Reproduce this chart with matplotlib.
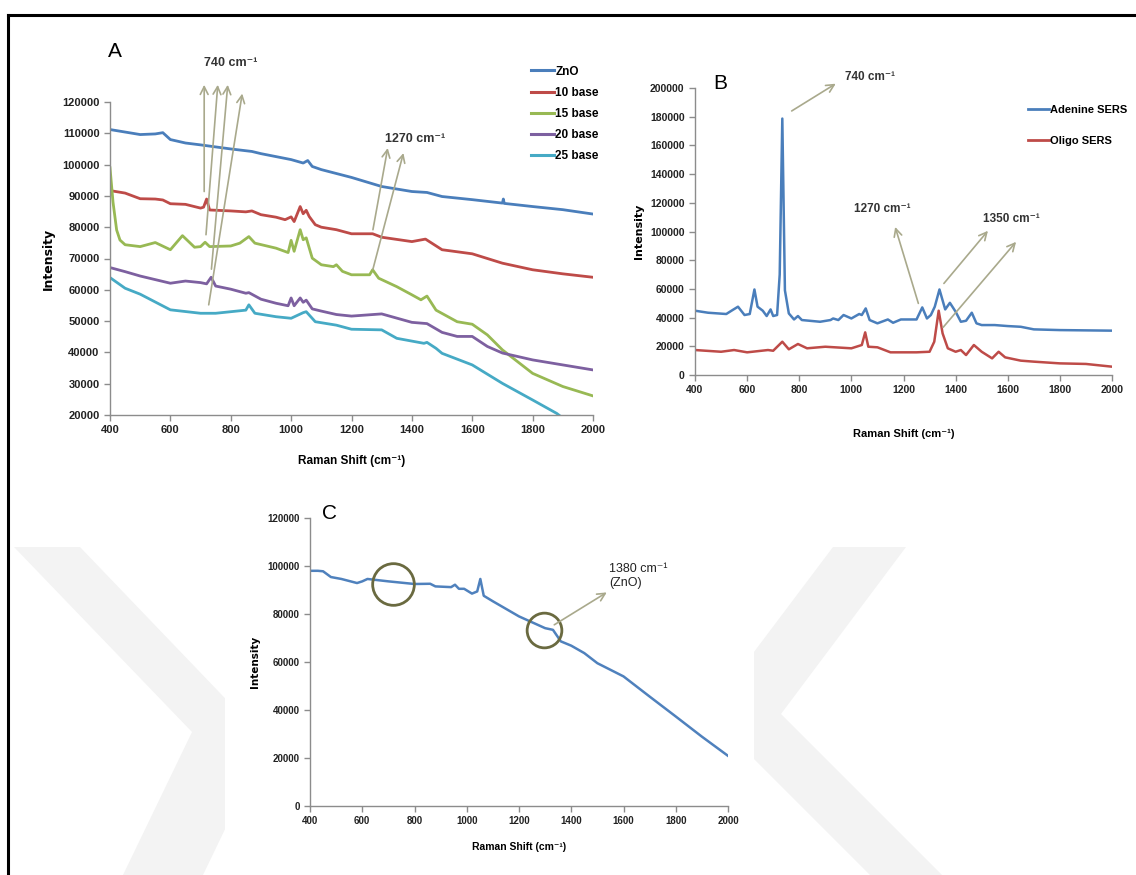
import numpy as np
import matplotlib
matplotlib.use("Agg")
import matplotlib.pyplot as plt
from matplotlib.lines import Line2D
from matplotlib.patches import Polygon, Rectangle

plt.rcParams['font.family'] = ['Liberation Sans Narrow', 'Liberation Sans', 'DejaVu Sans']
plt.rcParams['mathtext.default'] = 'regular'

# ---------------- panel A data (Raman shift, intensity) ----------------
zno_x = [400, 450, 500, 550, 575, 600, 650, 700, 800, 870, 900, 1000, 1040, 1055, 1070, 1100,
         1200, 1300, 1400, 1450, 1500, 1600, 1700, 1703, 1706, 1800, 1900, 2000]
zno_y = [111200, 110400, 109600, 109800, 110200, 108000, 106900, 106300, 105000, 104200, 103500,
         101600, 100500, 101300, 99400, 98400, 95900, 93000, 91400, 91100, 89800, 88800, 87700,
         89000, 87600, 86600, 85600, 84200]

b10_x = [400, 450, 500, 550, 575, 600, 650, 700, 710, 720, 730, 800, 850, 870, 900, 950, 980,
         1000, 1010, 1030, 1040, 1050, 1060, 1080, 1100, 1150, 1200, 1270, 1300, 1400, 1445,
         1500, 1600, 1700, 1800, 1900, 2000]
b10_y = [91700, 90900, 89100, 89000, 88700, 87500, 87300, 86100, 86400, 89000, 85500, 85200,
         84900, 85200, 84000, 83200, 82400, 83300, 81800, 86600, 84300, 85400, 83400, 80800,
         80000, 79200, 77900, 77900, 76800, 75400, 76200, 72800, 71500, 68500, 66400, 65100, 64000]

b15_x = [400, 410, 422, 433, 450, 500, 550, 600, 640, 680, 700, 715, 730, 800, 830, 860, 880,
         950, 990, 1000, 1010, 1030, 1040, 1050, 1070, 1100, 1140, 1150, 1170, 1200, 1260, 1270,
         1290, 1350, 1400, 1430, 1450, 1480, 1550, 1600, 1650, 1700, 1800, 1900, 2000]
b15_y = [99000, 88000, 79100, 75900, 74400, 73800, 75100, 72800, 77300, 73600, 73800, 75200,
         73800, 74000, 74900, 77000, 74900, 73300, 71900, 75800, 72300, 79200, 76000, 76600,
         70100, 68000, 67400, 68000, 65900, 64800, 64800, 66400, 63700, 61000, 58400, 56800,
         58000, 53500, 49800, 49000, 45600, 40800, 33300, 29100, 26100]

b20_x = [400, 450, 500, 600, 650, 700, 720, 735, 750, 800, 850, 860, 900, 950, 990, 1000, 1010,
         1030, 1040, 1050, 1070, 1100, 1150, 1200, 1300, 1400, 1450, 1500, 1550, 1600, 1650,
         1700, 1800, 1900, 2000]
b20_y = [67100, 65800, 64400, 62100, 62800, 62300, 61900, 64000, 61200, 60200, 58900, 59100,
         57000, 55700, 54900, 57400, 54900, 57400, 56000, 56700, 53900, 53200, 52100, 51600,
         52300, 49600, 49200, 46400, 45100, 45100, 41900, 39800, 37600, 36000, 34400]

b25_x = [400, 450, 500, 600, 700, 750, 850, 860, 880, 950, 1000, 1040, 1050, 1080, 1150, 1200,
         1300, 1350, 1440, 1450, 1480, 1500, 1600, 1700, 1800, 1880, 1900]
b25_y = [63900, 60500, 58600, 53600, 52500, 52500, 53500, 55200, 52500, 51400, 50900, 52700,
         53000, 49800, 48700, 47400, 47200, 44500, 42900, 43200, 41300, 39700, 36000, 30100,
         24800, 20500, 19000]

a_names = ['ZnO', '10 base', '15 base', '20 base', '25 base']

# ---------------- panel B data ----------------
ade_x = [400, 450, 520, 540, 565, 590, 610, 628, 640, 660, 675, 690, 700, 715, 725, 735, 745,
         760, 780, 795, 810, 880, 920, 930, 950, 970, 1000, 1030, 1040, 1055, 1070, 1100, 1140,
         1160, 1190, 1250, 1272, 1290, 1305, 1320, 1338, 1360, 1378, 1400, 1420, 1440, 1462,
         1480, 1500, 1550, 1600, 1650, 1700, 1800, 2000]
ade_y = [44800, 43400, 42500, 44800, 47600, 41800, 42500, 59600, 47600, 44800, 41100, 45700,
         41100, 41800, 70000, 178700, 59000, 42900, 38700, 41100, 38300, 37100, 38300, 39400,
         38300, 41800, 39400, 42500, 41800, 46400, 38300, 36000, 38700, 36400, 38700, 38700,
         47100, 39400, 41800, 47600, 59600, 45700, 50300, 44100, 37100, 37800, 43400, 36000,
         34800, 34800, 34100, 33600, 31800, 31300, 30900]

oli_x = [400, 500, 550, 600, 680, 700, 735, 760, 795, 830, 900, 1000, 1040, 1053, 1065, 1100,
         1150, 1250, 1300, 1318, 1335, 1350, 1370, 1400, 1420, 1440, 1470, 1500, 1540, 1565,
         1590, 1650, 1700, 1800, 1900, 2000]
oli_y = [17400, 16200, 17400, 15800, 17400, 16900, 23200, 17900, 21600, 18600, 19700, 18600,
         20900, 29700, 19700, 19300, 15800, 15800, 16200, 23200, 44800, 29000, 18600, 16200,
         17400, 13900, 20900, 16200, 11600, 16200, 12300, 10000, 9300, 8100, 7700, 5800]

# ---------------- panel C data ----------------
c_x = [400, 430, 450, 480, 520, 580, 600, 620, 700, 800, 860, 880, 940, 955, 970, 990, 1020,
       1040, 1052, 1065, 1100, 1200, 1300, 1330, 1360, 1400, 1450, 1500, 1600, 1700, 1800,
       1900, 2000]
c_y = [98000, 98000, 97800, 95400, 94600, 92900, 93600, 94600, 93600, 92500, 92600, 91500,
       91200, 92200, 90500, 90500, 88500, 89400, 94600, 87600, 85300, 79000, 74100, 73400,
       68600, 66800, 63700, 59500, 54000, 45600, 37300, 28900, 20900]

W, H = 1136, 875
fig = plt.figure(figsize=(W / 100, H / 100), dpi=100)


def fx(px):
    return px / W


def fy(py):
    return 1 - py / H


# faint watermark chevrons
wm = '#f3f3f3'
for pts in ([(14, 547), (80, 547), (267, 742), (203, 875), (123, 875), (192, 732)],
            [(833, 547), (906, 547), (781, 714), (942, 875), (870, 875), (708, 713)]):
    fig.add_artist(Polygon([(fx(a), fy(b)) for a, b in pts], closed=True,
                           facecolor=wm, edgecolor='none', zorder=0))
fig.add_artist(Rectangle((fx(225), fy(875)), fx(754) - fx(225), fy(493) - fy(875),
                         facecolor='white', edgecolor='none', zorder=0.5))

# frame
fig.add_artist(Line2D([fx(8), 1], [fy(15), fy(15)], color='black', lw=2.2, zorder=5))
fig.add_artist(Line2D([fx(8), fx(8)], [0, fy(15)], color='black', lw=2.2, zorder=5))

arrow_col = '#a9a98c'
sup = '\u207b\u00b9'
lab_fam = ['Liberation Sans', 'DejaVu Sans']


def style_axes(ax, fs):
    ax.set_zorder(2)
    for s in ['top', 'right']:
        ax.spines[s].set_visible(False)
    for s in ['left', 'bottom']:
        ax.spines[s].set_color('#8c8c8c')
        ax.spines[s].set_linewidth(1.0)
    ax.tick_params(direction='out', length=4, width=1, color='#8c8c8c',
                   labelsize=fs, labelcolor='#222222')
    for lab in ax.get_xticklabels() + ax.get_yticklabels():
        lab.set_fontweight('bold')
    ax.set_facecolor('none')


def arrow(ax, tail, head):
    ax.annotate('', xy=head, xytext=tail, annotation_clip=False,
                arrowprops=dict(arrowstyle='->', color=arrow_col, lw=1.2, mutation_scale=14,
                                shrinkA=0, shrinkB=0))


# ---------------- panel A ----------------
axA = fig.add_axes([fx(110), fy(415), fx(593) - fx(110), fy(102) - fy(415)])
colsA = ['#4a7ebb', '#be4b48', '#98b954', '#7d60a0', '#46aac5']
for xs, ys, c, n in zip([zno_x, b10_x, b15_x, b20_x, b25_x], [zno_y, b10_y, b15_y, b20_y, b25_y],
                        colsA, a_names):
    axA.plot(xs, ys, color=c, lw=2.0, label=n)
axA.set_xlim(400, 2000)
axA.set_ylim(20000, 120000)
axA.set_xticks(range(400, 2001, 200))
axA.set_yticks(range(20000, 120001, 10000))
style_axes(axA, 8)
axA.set_xlabel('Raman Shift (cm' + sup + ')', fontsize=8.5, fontweight='bold', labelpad=14,
               family=lab_fam)
axA.set_ylabel('Intensity', fontsize=9, fontweight='bold', labelpad=5, family='DejaVu Sans')
axA.text(417, 136000, 'A', fontsize=15, family='Liberation Sans', ha='center', va='center')
axA.text(800, 132500, '740 cm' + sup, fontsize=9, fontweight='bold', family=lab_fam,
         ha='center', va='center', color='#333333')
axA.text(1410, 108200, '1270 cm' + sup, fontsize=9, fontweight='bold', family=lab_fam,
         ha='center', va='center', color='#333333')
for t, h in [((712, 91400), (712, 125500)), ((718, 77600), (757, 125500)),
             ((736, 66600), (790, 125500)), ((727, 55200), (838, 122700)),
             ((1271, 79200), (1320, 105300)), ((1271, 66600), (1372, 103700))]:
    arrow(axA, t, h)
legA = axA.legend(loc='upper left', bbox_to_anchor=(fx(520), fy(55)),
                  bbox_transform=fig.transFigure, frameon=False, handlelength=2.0,
                  handletextpad=0.1, labelspacing=0.78, prop=dict(size=8.5, weight='bold'))
for ln in legA.get_lines():
    ln.set_linewidth(2.2)

# ---------------- panel B ----------------
axB = fig.add_axes([fx(695), fy(375), fx(1112) - fx(695), fy(88) - fy(375)])
axB.plot(ade_x, ade_y, color='#4a7ebb', lw=1.8, label='Adenine SERS')
axB.plot(oli_x, oli_y, color='#be4b48', lw=1.8, label='Oligo SERS')
axB.set_xlim(400, 2000)
axB.set_ylim(0, 200000)
axB.set_xticks(range(400, 2001, 200))
axB.set_yticks(range(0, 200001, 20000))
style_axes(axB, 7.5)
axB.set_xlabel('Raman Shift (cm' + sup + ')', fontsize=8, fontweight='bold', labelpad=24,
               family=lab_fam)
axB.set_ylabel('Intensity', fontsize=8, fontweight='bold', labelpad=4, family='DejaVu Sans')
axB.text(495, 203000, 'B', fontsize=15, family='Liberation Sans', ha='center', va='center')
axB.text(1073, 207700, '740 cm' + sup, fontsize=8.5, fontweight='bold', family=lab_fam,
         ha='center', va='center', color='#333333')
axB.text(1117, 116000, '1270 cm' + sup, fontsize=8.5, fontweight='bold', family=lab_fam,
         ha='center', va='center', color='#333333')
axB.text(1613, 109000, '1350 cm' + sup, fontsize=8.5, fontweight='bold', family=lab_fam,
         ha='center', va='center', color='#333333')
for t, h in [((771, 184000), (940, 203000)), ((1257, 49900), (1168, 103200)),
             ((1355, 63800), (1524, 100500)), ((1352, 33200), (1632, 92800))]:
    arrow(axB, t, h)
legB = axB.legend(loc='upper left', bbox_to_anchor=(fx(1018), fy(95)),
                  bbox_transform=fig.transFigure, frameon=False, handlelength=1.9,
                  handletextpad=0.1, labelspacing=1.9, prop=dict(size=8, weight='bold'))
for ln in legB.get_lines():
    ln.set_linewidth(2.0)

# ---------------- panel C ----------------
axC = fig.add_axes([fx(310), fy(806), fx(728) - fx(310), fy(518) - fy(806)])
axC.plot(c_x, c_y, color='#4f81bd', lw=1.8)
axC.set_xlim(400, 2000)
axC.set_ylim(0, 120000)
axC.set_xticks(range(400, 2001, 200))
axC.set_yticks(range(0, 120001, 20000))
style_axes(axC, 7)
axC.set_xlabel('Raman Shift (cm' + sup + ')', fontsize=7.5, fontweight='bold', labelpad=11,
               family=lab_fam)
axC.set_ylabel('Intensity', fontsize=7.5, fontweight='bold', labelpad=5, family='DejaVu Sans')
axC.text(475, 122000, 'C', fontsize=15, family='Liberation Sans', ha='center', va='center')
axC.text(1546, 95800, '1380 cm' + sup + '\n(ZnO)', fontsize=9, family=lab_fam,
         ha='left', va='center', color='#222222', linespacing=1.25)
axC.plot([716], [92300], 'o', ms=30, mfc='none', mec='#6a6a40', mew=2.0)
axC.plot([1296], [73200], 'o', ms=25, mfc='none', mec='#6a6a40', mew=2.0)
arrow(axC, (1335, 75500), (1536, 89000))

fig.savefig('out.png', dpi=100)
